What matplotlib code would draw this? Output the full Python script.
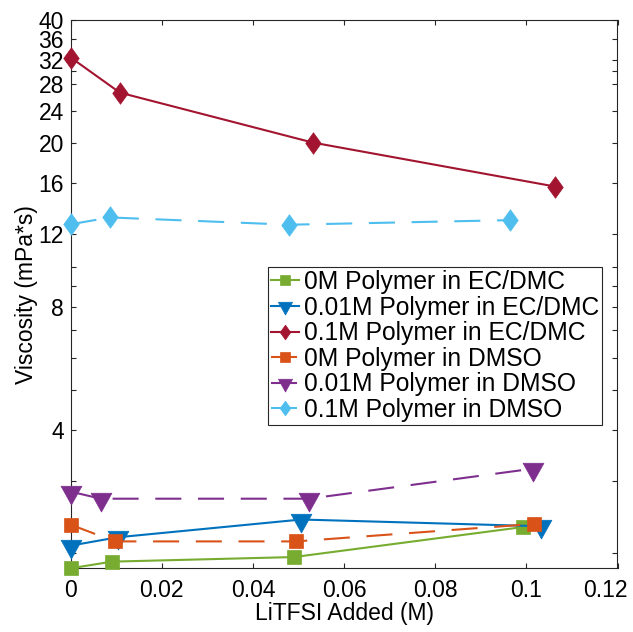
import matplotlib
matplotlib.use("Agg")
import matplotlib.pyplot as plt
from matplotlib.path import Path
from matplotlib.ticker import FixedLocator, NullFormatter
import numpy as np

plt.rcParams['font.family'] = ['Liberation Sans', 'DejaVu Sans']

# ---- data ----
labels = ["0M Polymer in EC/DMC", "0.01M Polymer in EC/DMC", "0.1M Polymer in EC/DMC",
          "0M Polymer in DMSO", "0.01M Polymer in DMSO", "0.1M Polymer in DMSO"]

x_ec0 = [0.0, 0.009, 0.049, 0.0993]
y_ec0 = [1.84, 1.91, 1.96, 2.32]

x_ec001 = [0.0, 0.0103, 0.0506, 0.1033]
y_ec001 = [2.09, 2.19, 2.42, 2.33]

x_ec01 = [0.0, 0.0108, 0.0531, 0.1063]
y_ec01 = [32.4, 26.6, 20.1, 15.7]

x_dm0 = [0.0, 0.0097, 0.0495, 0.1016]
y_dm0 = [2.35, 2.14, 2.14, 2.36]

x_dm001 = [0.0, 0.0066, 0.0523, 0.1015]
y_dm001 = [2.83, 2.72, 2.72, 3.22]

x_dm01 = [0.0, 0.0086, 0.048, 0.0964]
y_dm01 = [12.7, 13.2, 12.67, 13.0]

yticks = [4, 8, 12, 16, 20, 24, 28, 32, 36, 40]
yminor = [2, 3, 5, 6, 7, 9, 10, 30]
xticks = [0, 0.02, 0.04, 0.06, 0.08, 0.1, 0.12]
xticklabels = ["0", "0.02", "0.04", "0.06", "0.08", "0.1", "0.12"]

colors = ["#77AC30", "#0072BD", "#A2142F", "#D95319", "#7E2F8E", "#4DBEEE"]

# custom markers (MATLAB-like)
tri = Path([(-1, 0.6), (1, 0.6), (0, -1.2), (-1, 0.6)],
           [Path.MOVETO, Path.LINETO, Path.LINETO, Path.CLOSEPOLY])
dia = Path([(0, 1), (0.72, 0), (0, -1), (-0.72, 0), (0, 1)],
           [Path.MOVETO, Path.LINETO, Path.LINETO, Path.LINETO, Path.CLOSEPOLY])

fig = plt.figure(figsize=(6.33, 6.32), dpi=100)
ax = fig.add_axes([70.7/633, 1-568.3/632, (617.5-70.7)/633, (568.3-20)/632])

dash = (0, (12.5, 8))
series = [
    (x_ec0, y_ec0, 's', 10.5, '-'),
    (x_ec001, y_ec001, tri, 18, '-'),
    (x_ec01, y_ec01, dia, 15.5, '-'),
    (x_dm0, y_dm0, 's', 10.5, dash),
    (x_dm001, y_dm001, tri, 18, dash),
    (x_dm01, y_dm01, dia, 15.5, dash),
]
for (xs, ys, mk, ms, ls), c, lab in zip(series, colors, labels):
    ax.plot(xs, ys, linestyle=ls, color=c, lw=1.5, marker=mk, markersize=ms,
            markerfacecolor=c, markeredgecolor=c, markeredgewidth=0.5, label=lab,
            clip_on=False, zorder=3)

ax.set_yscale('log')
ax.set_ylim(1.84, 40)
ax.set_xlim(0, 0.12)
ax.yaxis.set_major_locator(FixedLocator(yticks))
ax.set_yticklabels([str(t) for t in yticks])
ax.yaxis.set_minor_locator(FixedLocator(yminor))
ax.yaxis.set_minor_formatter(NullFormatter())
ax.set_xticks(xticks)
# last x tick label drawn separately, shifted left so it fits in the figure
ax.set_xticklabels(xticklabels[:-1] + [""])

for s in ax.spines.values():
    s.set_linewidth(0.8)
    s.set_color('#262626')
ax.tick_params(which='both', direction='in', top=True, right=True,
               length=3.6, width=0.8, color='#262626', labelsize=16.5, labelcolor='black')
ax.tick_params(axis='x', pad=8)
ax.tick_params(axis='y', pad=5)

ax.annotate(xticklabels[-1], xy=(xticks[-1], 0), xycoords=('data', 'axes fraction'),
            xytext=(-9, -8), textcoords='offset points', ha='center', va='top',
            fontsize=16.5)

ax.set_xlabel("LiTFSI Added (M)", fontsize=16.5, labelpad=0)
ax.set_ylabel("Viscosity (mPa*s)", fontsize=16.5, labelpad=0.5)

leg = ax.legend(loc='upper left', bbox_to_anchor=((268-70.7)/546.8, (568.3-267)/548.3),
                borderaxespad=0, fontsize=17.7, frameon=True, fancybox=False,
                edgecolor='#262626', framealpha=1, handlelength=1.15, handletextpad=0.2,
                labelspacing=0.065, borderpad=0.12, numpoints=1, markerscale=0.68)
leg.get_frame().set_linewidth(0.8)

fig.savefig("out.png", dpi=100)
